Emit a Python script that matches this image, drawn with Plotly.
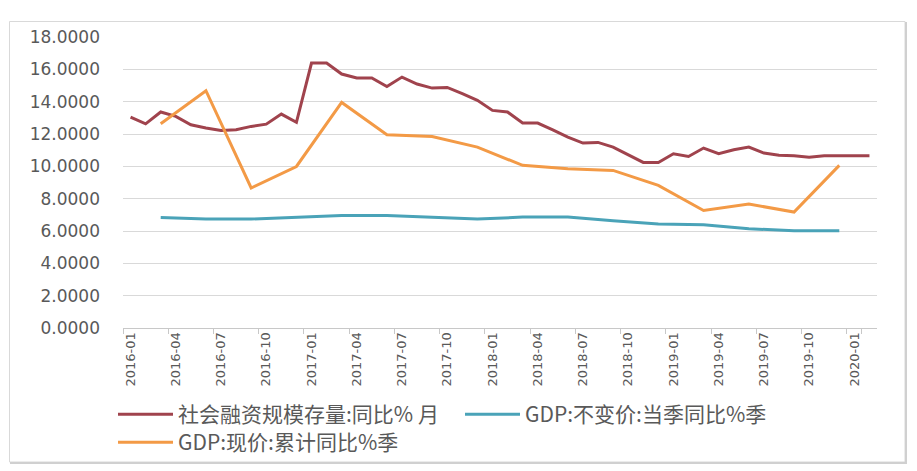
import plotly.graph_objects as go

months = [
    "2016-01", "2016-02", "2016-03", "2016-04", "2016-05", "2016-06", "2016-07", "2016-08", "2016-09", "2016-10", "2016-11", "2016-12",
    "2017-01", "2017-02", "2017-03", "2017-04", "2017-05", "2017-06", "2017-07", "2017-08", "2017-09", "2017-10", "2017-11", "2017-12",
    "2018-01", "2018-02", "2018-03", "2018-04", "2018-05", "2018-06", "2018-07", "2018-08", "2018-09", "2018-10", "2018-11", "2018-12",
    "2019-01", "2019-02", "2019-03", "2019-04", "2019-05", "2019-06", "2019-07", "2019-08", "2019-09", "2019-10", "2019-11", "2019-12",
    "2020-01", "2020-02",
]
tsf_yoy = [
    13.05, 12.63, 13.36, 13.09, 12.57, 12.37, 12.22, 12.26, 12.47, 12.61, 13.23, 12.72,
    16.39, 16.39, 15.71, 15.46, 15.46, 14.94, 15.52, 15.09, 14.84, 14.88, 14.49, 14.08,
    13.46, 13.36, 12.68, 12.68, 12.26, 11.81, 11.44, 11.48, 11.19, 10.72, 10.24, 10.24,
    10.78, 10.61, 11.13, 10.78, 11.03, 11.19, 10.82, 10.68, 10.66, 10.57, 10.66, 10.66,
    10.66, 10.66,
]
quarters = [
    "2016-03", "2016-06", "2016-09", "2016-12", "2017-03", "2017-06", "2017-09", "2017-12",
    "2018-03", "2018-06", "2018-09", "2018-12", "2019-03", "2019-06", "2019-09", "2019-12",
]
gdp_real_yoy = [6.84, 6.74, 6.74, 6.84, 6.96, 6.96, 6.86, 6.74, 6.86, 6.86, 6.64, 6.43, 6.39, 6.14, 6.02, 6.02]
gdp_nominal_cum_yoy = [12.63, 14.68, 8.66, 9.99, 13.95, 11.95, 11.85, 11.19, 10.06, 9.85, 9.75, 8.82, 7.27, 7.67, 7.17, 10.06]

tick_labels = months[::3]
y_ticks = [0, 2, 4, 6, 8, 10, 12, 14, 16, 18]

names = ["社会融资规模存量:同比% 月", "GDP:不变价:当季同比%季", "GDP:现价:累计同比%季"]
colors = ["#A0434D", "#4AA3B8", "#F39A46"]

fig = go.Figure()
fig.add_trace(go.Scatter(x=months, y=tsf_yoy, mode="lines", name=names[0],
                         line=dict(color=colors[0], width=3), legend="legend"))
fig.add_trace(go.Scatter(x=quarters, y=gdp_real_yoy, mode="lines", name=names[1],
                         line=dict(color=colors[1], width=3), legend="legend"))
fig.add_trace(go.Scatter(x=quarters, y=gdp_nominal_cum_yoy, mode="lines", name=names[2],
                         line=dict(color=colors[2], width=3), legend="legend2"))

L, R, T, B = 123, 40, 37, 143
W, H = 917, 471
pw, ph = W - L - R, H - T - B

def px(xp):
    return (xp - L) / pw

def py(yp):
    return (H - B - yp) / ph

legend_font = dict(family="Noto Sans CJK SC", size=21, color="#595959")

fig.update_layout(
    width=W, height=H,
    margin=dict(l=L, r=R, t=T, b=B, autoexpand=False),
    paper_bgcolor="white", plot_bgcolor="white",
    font=dict(family="DejaVu Sans", color="#595959"),
    showlegend=True,
    legend=dict(
        orientation="h", x=px(113), xanchor="left", y=py(394), yanchor="top",
        font=legend_font, itemwidth=55, bgcolor="rgba(0,0,0,0)",
        entrywidth=277, entrywidthmode="pixels",
    ),
    legend2=dict(
        orientation="h", x=px(113), xanchor="left", y=py(422), yanchor="top",
        font=legend_font, itemwidth=55, bgcolor="rgba(0,0,0,0)",
    ),
    xaxis=dict(
        type="category", categoryorder="array", categoryarray=months,
        range=[-0.5, len(months) - 0.5], automargin=False,
        tickmode="array", tickvals=tick_labels, ticktext=tick_labels,
        tickson="boundaries", ticks="outside", ticklen=5, tickcolor="#c8c8c8",
        showline=True, linecolor="#c8c8c8", linewidth=1,
        showgrid=False, tickangle=-90, ticklabelstandoff=-2,
        tickfont=dict(family="DejaVu Sans", size=13, color="#595959"),
    ),
    yaxis=dict(
        range=[0, 18], tickmode="array", tickvals=y_ticks, tickformat=".4f",
        showgrid=True, gridcolor="#d9d9d9", gridwidth=1, zeroline=False,
        ticks="", ticklabelstandoff=22, automargin=False,
        tickfont=dict(family="DejaVu Sans", size=17, color="#595959"),
    ),
    shapes=[
        dict(type="rect", xref="paper", yref="paper",
             x0=px(9.5), x1=px(905), y0=py(462), y1=py(21.5),
             line=dict(color="#d9d9d9", width=1), layer="below"),
        dict(type="line", xref="paper", yref="paper",
             x0=px(906), x1=px(906), y0=py(463), y1=py(22),
             line=dict(color="#d0d0d0", width=2)),
        dict(type="line", xref="paper", yref="paper",
             x0=px(10), x1=px(907), y0=py(463), y1=py(463),
             line=dict(color="#d0d0d0", width=2)),
    ],
)

fig.write_html("out.html", config={"displayModeBar": False},
               post_script="document.body.style.margin='0px';")
